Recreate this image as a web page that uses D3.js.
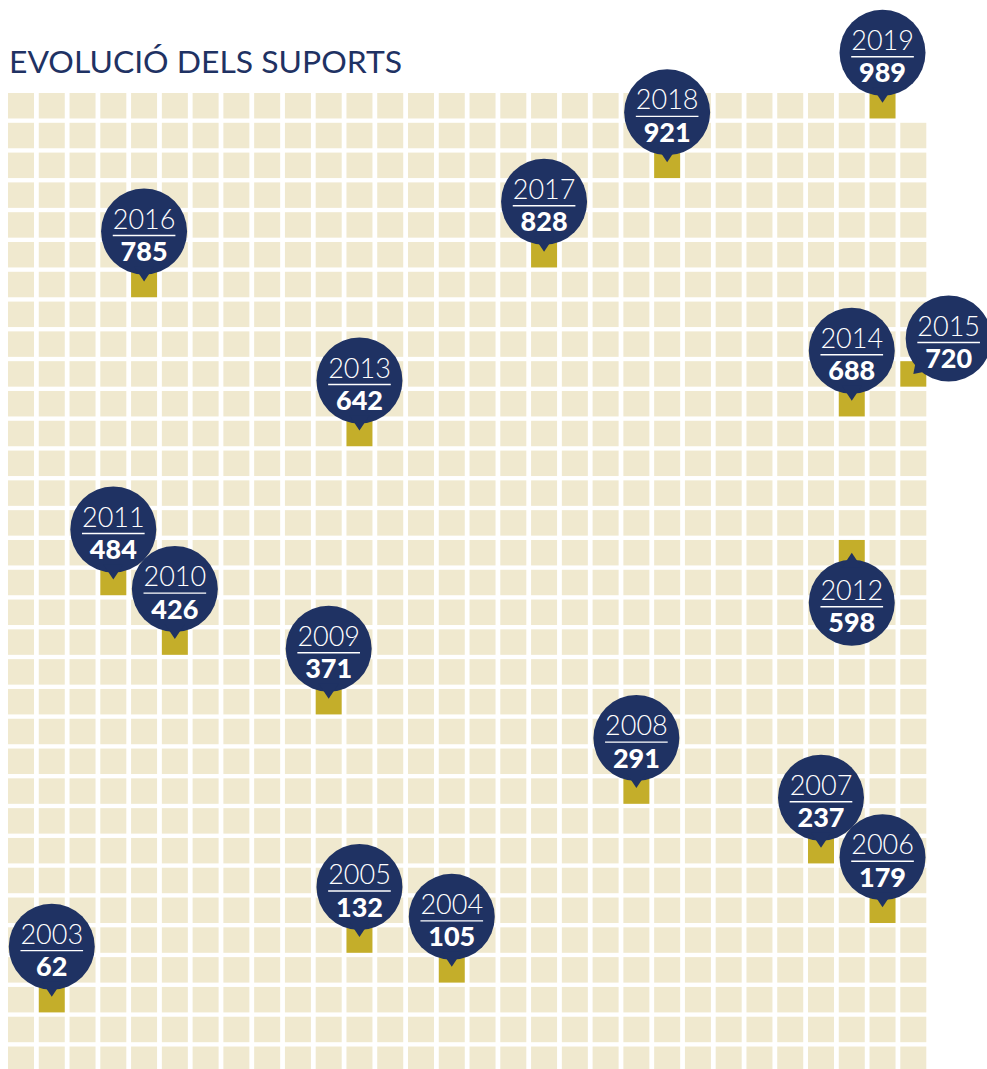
<!DOCTYPE html>
<html>
<head>
    <meta charset="utf-8">
    <title>Evolució dels suports</title>
    <script src="https://d3js.org/d3.v7.min.js"></script>
    <style>
        body { margin: 0; background: #fff; }
        svg { display: block; }
        .title { font-family: Lato, "Noto Sans", sans-serif; font-weight: 400; font-size: 30px; fill: #1f3263; }
        .cell { fill: #f0e9cf; }
        .cell.hit { fill: #c4ae2a; }
        .pin path, .pin circle { fill: #1f3263; }
        .pin text { fill: #fff; font-family: Lato, "Noto Sans", sans-serif; text-anchor: middle; }
        .pin .year { font-weight: 300; font-size: 27px; }
        .pin .value { font-weight: 900; font-size: 27px; }
        .pin line { stroke: #fff; stroke-width: 1.4px; }
    </style>
</head>
<body>
<div id="chart"></div>
<script>
    // supports accumulated per year
    const years = [2003, 2004, 2005, 2006, 2007, 2008, 2009, 2010, 2011, 2012, 2013, 2014, 2015, 2016, 2017, 2018, 2019];
    const supports = [62, 105, 132, 179, 237, 291, 371, 426, 484, 598, 642, 688, 720, 785, 828, 921, 989];

    // the original puts two pins on a different cell than their value
    const drawnCell = { 2012: 538, 2018: 922 };
    // pin direction in degrees (0 = bubble above the cell)
    const pinAngle = { 2012: 180, 2015: 45 };

    const ncols = 30;
    const total = d3.max(supports);
    const nrows = Math.ceil(total / ncols);

    const width = 987, height = 1069;

    const svg = d3.select("#chart").append("svg")
        .attr("width", width)
        .attr("height", height);

    svg.append("text")
        .attr("class", "title")
        .attr("x", 9)
        .attr("y", 73)
        .attr("textLength", 393)
        .attr("lengthAdjust", "spacingAndGlyphs")
        .text("EVOLUCIÓ DELS SUPORTS");

    const x = d3.scaleBand()
        .domain(d3.range(ncols))
        .range([8, 926.3])
        .paddingInner(0.155);

    // row 0 at the bottom
    const y = d3.scaleBand()
        .domain(d3.range(nrows))
        .range([1072, 93])
        .paddingInner(0.145);

    const markers = years.map((yr, i) => {
        const n = drawnCell[yr] || supports[i];
        const idx = n - 1;
        return { year: yr, value: supports[i], col: idx % ncols, row: Math.floor(idx / ncols), angle: pinAngle[yr] || 0 };
    });
    const hitCells = new Set(markers.map(m => m.row * ncols + m.col));

    svg.append("g")
        .selectAll("rect")
        .data(d3.range(total))
        .join("rect")
        .attr("class", i => hitCells.has(i) ? "cell hit" : "cell")
        .attr("x", i => x(i % ncols))
        .attr("y", i => y(Math.floor(i / ncols)))
        .attr("width", x.bandwidth())
        .attr("height", y.bandwidth());

    const R = 43;
    const dist = 53;

    // later years first so the lower bubbles sit on top
    const pin = svg.append("g")
        .selectAll("g")
        .data(markers.slice().reverse())
        .join("g")
        .attr("class", "pin")
        .attr("transform", d => `translate(${x(d.col) + x.bandwidth() / 2},${y(d.row) + y.bandwidth() / 2})`);

    const shape = pin.append("g")
        .attr("transform", d => `rotate(${d.angle})`);
    shape.append("circle")
        .attr("cx", 0)
        .attr("cy", d => -(d.angle === 0 ? dist : 50))
        .attr("r", R);
    shape.append("path")
        .attr("d", d => {
            const c = d.angle === 0 ? dist : 50;
            return `M-10,${-c + 35}L10,${-c + 35}L0,${-c + 50}Z`;
        });

    const label = pin.append("g")
        .attr("transform", d => {
            const c = d.angle === 0 ? dist : 50;
            const a = d.angle * Math.PI / 180;
            return `translate(${c * Math.sin(a)},${-c * Math.cos(a)})`;
        });

    label.append("text")
        .attr("class", "year")
        .attr("y", -3)
        .text(d => d.year);

    label.append("line")
        .each(function() {
            const w = this.parentNode.querySelector(".year").getComputedTextLength();
            d3.select(this)
                .attr("x1", -w / 2)
                .attr("x2", w / 2)
                .attr("y1", 4)
                .attr("y2", 4);
        });

    label.append("text")
        .attr("class", "value")
        .attr("y", 29.5)
        .text(d => d.value);
</script>
</body>
</html>
